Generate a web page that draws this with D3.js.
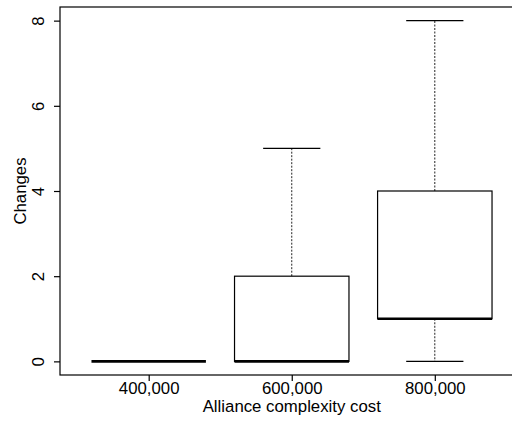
<!DOCTYPE html>
<html><head><meta charset="utf-8">
<script src="https://cdn.jsdelivr.net/npm/d3@7"></script>
<style>body{margin:0;background:#fff}svg{display:block}text{font-family:"Liberation Sans",Arial,sans-serif;fill:#000}</style>
</head><body><svg id="c" width="512" height="421"></svg>
<script>
const categories = ["400,000", "600,000", "800,000"];
const whiskerLow = [0, 0, 0];
const q1 = [0, 0, 1];
const median = [0, 0, 1];
const q3 = [0, 2, 4];
const whiskerHigh = [0, 5, 8];
const yTicks = [0, 2, 4, 6, 8];

const svg = d3.select("#c");
const L = 60, R = 523.5, T = 7, B = 375;
const x = d3.scaleLinear().domain([0.38, 3.62]).range([L, R]);
const y = d3.scaleLinear().domain([-0.32, 8.32]).range([B, T]);
const fs = 16.8;

// plot box
svg.append("rect").attr("x", L).attr("y", T).attr("width", R - L).attr("height", B - T)
  .attr("fill", "none").attr("stroke", "#000").attr("stroke-width", 1.2);

// y axis
const yAxis = d3.axisLeft(y).tickValues(yTicks).tickSize(6).tickPadding(4).tickFormat(d3.format("d"));
const ga = svg.append("g").attr("transform", `translate(${L},0)`).call(yAxis);
ga.select(".domain").remove();
ga.selectAll(".tick line").attr("stroke", "#000").attr("stroke-width", 1.2);
ga.selectAll(".tick text").attr("font-size", fs).attr("text-anchor", "middle")
  .attr("x", null).attr("dy", null)
  .attr("transform", "translate(-16,0) rotate(-90)").attr("y", 0);

// x axis
const xAxis = d3.axisBottom(x).tickValues([1, 2, 3]).tickSize(6).tickPadding(3)
  .tickFormat((d, i) => categories[d - 1]);
const gx = svg.append("g").attr("transform", `translate(0,${B})`).call(xAxis);
gx.select(".domain").remove();
gx.selectAll(".tick line").attr("stroke", "#000").attr("stroke-width", 1.2);
gx.selectAll(".tick text").attr("font-size", fs).attr("dy", null).attr("y", 19);

// axis titles
svg.append("text").attr("x", x(2)).attr("y", 412).attr("text-anchor", "middle")
  .attr("font-size", fs).text("Alliance complexity cost");
svg.append("text").attr("transform", `translate(26,${(y(0)+y(8))/2}) rotate(-90)`)
  .attr("text-anchor", "middle").attr("font-size", fs).text("Changes");

// boxes
const bw = 0.4, sw = 0.2;
categories.forEach((c, i) => {
  const cx = i + 1;
  const g = svg.append("g");
  // whiskers
  g.append("line").attr("x1", x(cx)).attr("x2", x(cx)).attr("y1", y(q3[i])).attr("y2", y(whiskerHigh[i]))
    .attr("stroke", "#222").attr("stroke-width", 1).attr("stroke-dasharray", "2,1.5");
  g.append("line").attr("x1", x(cx)).attr("x2", x(cx)).attr("y1", y(q1[i])).attr("y2", y(whiskerLow[i]))
    .attr("stroke", "#222").attr("stroke-width", 1).attr("stroke-dasharray", "2,1.5");
  // staples
  [whiskerLow[i], whiskerHigh[i]].forEach(v => {
    g.append("line").attr("x1", x(cx - sw)).attr("x2", x(cx + sw)).attr("y1", y(v)).attr("y2", y(v))
      .attr("stroke", "#000").attr("stroke-width", 1.2);
  });
  // box
  g.append("rect").attr("x", x(cx - bw)).attr("width", x(cx + bw) - x(cx - bw))
    .attr("y", y(q3[i])).attr("height", y(q1[i]) - y(q3[i]))
    .attr("fill", "#fff").attr("stroke", "#000").attr("stroke-width", 1.2);
  // median
  g.append("line").attr("x1", x(cx - bw)).attr("x2", x(cx + bw)).attr("y1", y(median[i])).attr("y2", y(median[i]))
    .attr("stroke", "#000").attr("stroke-width", 2.6);
});
</script></body></html>
